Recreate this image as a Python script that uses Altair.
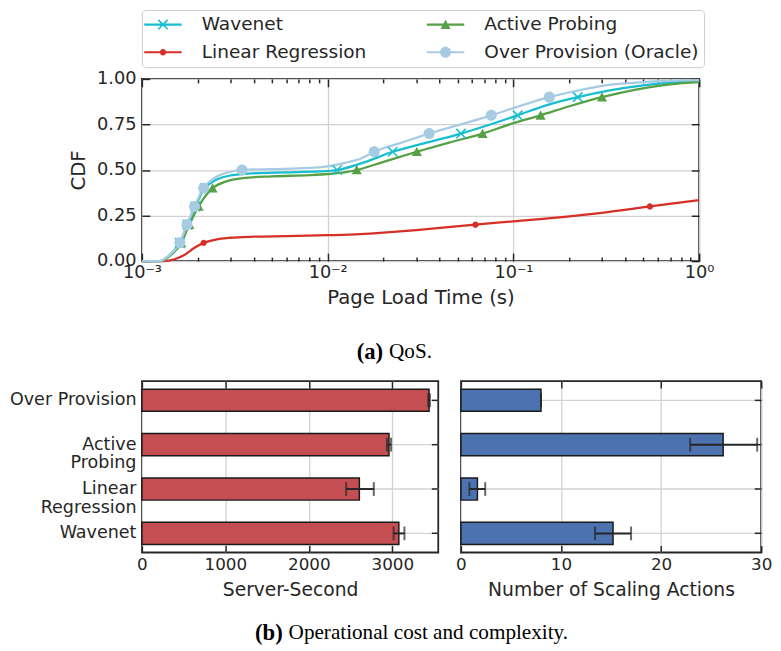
import math
import altair as alt
import pandas as pd

# ---------------- data ----------------
series_names = ["Wavenet", "Linear Regression", "Active Probing", "Over Provision (Oracle)"]
series_colors = ["#17becf", "#d62f27", "#56a046", "#a6cbe3"]

wavenet_x = [0.001, 0.00125, 0.0014, 0.0016, 0.00176, 0.00194, 0.00218, 0.0025, 0.003, 0.004, 0.006,
             0.009, 0.01125, 0.015, 0.0224, 0.035, 0.0522, 0.075, 0.1054, 0.15, 0.222, 0.33, 0.5, 0.7, 1.0]
wavenet_cdf = [0, 0, 0.03, 0.10, 0.20, 0.30, 0.40, 0.445, 0.47, 0.482, 0.487,
               0.492, 0.50, 0.535, 0.60, 0.653, 0.70, 0.75, 0.80, 0.855, 0.90, 0.937, 0.965, 0.98, 0.99]

lr_x = [0.001, 0.0013, 0.0015, 0.0017, 0.0019, 0.00215, 0.0025, 0.003, 0.004, 0.006, 0.01, 0.015,
        0.02, 0.03, 0.0625, 0.1, 0.2, 0.3, 0.543, 1.0]
lr_cdf = [0, 0, 0.01, 0.035, 0.07, 0.10, 0.118, 0.128, 0.134, 0.137, 0.142, 0.148,
          0.156, 0.17, 0.20, 0.218, 0.245, 0.265, 0.30, 0.335]

ap_x = [0.001, 0.00127, 0.0014, 0.00163, 0.0018, 0.00202, 0.0024, 0.0028, 0.0035, 0.005, 0.008, 0.01,
        0.0125, 0.01435, 0.02, 0.0302, 0.045, 0.0682, 0.1, 0.14, 0.2, 0.3, 0.45, 0.7, 1.0]
ap_cdf = [0, 0, 0.025, 0.10, 0.20, 0.30, 0.40, 0.435, 0.455, 0.465, 0.472, 0.478,
          0.488, 0.50, 0.545, 0.60, 0.65, 0.70, 0.757, 0.80, 0.85, 0.90, 0.94, 0.97, 0.982]

oracle_x = [0.001, 0.00124, 0.0014, 0.0016, 0.00175, 0.00192, 0.00215, 0.0025, 0.003, 0.00346, 0.005,
            0.008, 0.01, 0.0125, 0.015, 0.0178, 0.025, 0.0352, 0.05, 0.076, 0.1, 0.156, 0.22, 0.3, 0.5, 0.7, 1.0]
oracle_cdf = [0, 0, 0.03, 0.10, 0.20, 0.30, 0.40, 0.46, 0.49, 0.50, 0.505,
              0.512, 0.52, 0.54, 0.562, 0.60, 0.65, 0.70, 0.745, 0.80, 0.84, 0.90, 0.935, 0.962, 0.982, 0.99, 0.993]

wavenet_mark_x = [0.0016, 0.00176, 0.00194, 0.00218, 0.01125, 0.0224, 0.0522, 0.1054, 0.222]
wavenet_mark_cdf = [0.1, 0.2, 0.3, 0.4, 0.5, 0.6, 0.7, 0.8, 0.9]
lr_mark_x = [0.00215, 0.0625, 0.543]
lr_mark_cdf = [0.1, 0.2, 0.3]
ap_mark_x = [0.00163, 0.0018, 0.00202, 0.0024, 0.01435, 0.0302, 0.0682, 0.14, 0.30]
ap_mark_cdf = [0.1, 0.2, 0.3, 0.4, 0.5, 0.6, 0.7, 0.8, 0.9]
oracle_mark_x = [0.0016, 0.00175, 0.00192, 0.00215, 0.00346, 0.0178, 0.0352, 0.076, 0.156]
oracle_mark_cdf = [0.1, 0.2, 0.3, 0.4, 0.5, 0.6, 0.7, 0.8, 0.9]

x_major_ticks = [0.001, 0.01, 0.1, 1.0]
cdf_ticks = [0.0, 0.25, 0.5, 0.75, 1.0]

bar_categories = ["Over Provision", "Active\nProbing", "Linear\nRegression", "Wavenet"]
server_seconds = [3440, 2960, 2605, 3078]
server_seconds_lo = [3430, 2935, 2447, 3015]
server_seconds_hi = [3450, 2985, 2778, 3145]
scaling_actions = [8.0, 26.2, 1.65, 15.2]
scaling_actions_lo = [8.0, 22.9, 0.85, 13.4]
scaling_actions_hi = [8.0, 29.6, 2.43, 17.0]
server_ticks = [0, 1000, 2000, 3000]
scaling_ticks = [0, 10, 20, 30]

caption_a = ("(a)", "QoS.")
caption_b = ("(b)", "Operational cost and complexity.")

# ---------------- tables ----------------
curves = {"Wavenet": (wavenet_x, wavenet_cdf), "Linear Regression": (lr_x, lr_cdf),
          "Active Probing": (ap_x, ap_cdf), "Over Provision (Oracle)": (oracle_x, oracle_cdf)}
marks = {"Wavenet": (wavenet_mark_x, wavenet_mark_cdf), "Linear Regression": (lr_mark_x, lr_mark_cdf),
         "Active Probing": (ap_mark_x, ap_mark_cdf), "Over Provision (Oracle)": (oracle_mark_x, oracle_mark_cdf)}
curve_df = pd.DataFrame([{"series": s, "x": x, "cdf": y} for s in series_names
                         for x, y in zip(*curves[s])])
mark_df = pd.DataFrame([{"series": s, "x": x, "cdf": y} for s in series_names
                        for x, y in zip(*marks[s])])

# ---------------- styles ----------------
INK = "#262626"
GRID = "#d2d2d2"
SANS = "DejaVu Sans"


def polygon(pts):
    area = sum(x1 * y2 - x2 * y1 for (x1, y1), (x2, y2) in zip(pts, pts[1:] + pts[:1]))
    if area < 0:
        pts = pts[::-1]
    return "M" + "L".join(f"{x:.3f},{y:.3f}" for x, y in pts) + "Z"


def circle(r):
    return f"M{-r:.3f},0A{r:.3f},{r:.3f} 0 1 1 {r:.3f},0A{r:.3f},{r:.3f} 0 1 1 {-r:.3f},0Z"


def x_mark(h, t):
    s = t / (2 * math.sqrt(2))
    a = polygon([(-h - s, -h + s), (h - s, h + s), (h + s, h - s), (-h + s, -h - s)])
    b = polygon([(-h + s, h + s), (h + s, -h + s), (h - s, -h - s), (-h - s, h - s)])
    return a + b


triangle = polygon([(0, -0.62), (0.64, 0.55), (-0.64, 0.55)])
marker_paths = [x_mark(0.6, 0.2), circle(0.4), triangle, circle(0.7)]
line_seg = polygon([(-2.375, -0.14), (2.375, -0.14), (2.375, 0.14), (-2.375, 0.14)])
legend_paths = [line_seg + m for m in marker_paths]


def inward_axis(orient, length, values=None, **kw):
    opts = dict(orient=orient, tickSize=length, offset=-length, domain=False, ticks=True,
                tickColor=INK, tickWidth=1.5, labelFlush=False, labelOverlap=False)
    if values is not None:
        opts["values"] = values
    opts.update(kw)
    return alt.Axis(**opts)


# ---------------- top chart ----------------
TOP_W, TOP_H = 566, 185
x_scale = alt.Scale(type="log", domain=[0.001, 1.0], nice=False)
y_scale = alt.Scale(domain=[0, 1], nice=False)
color_scale = alt.Scale(domain=series_names, range=series_colors)
minor_x = [m * 10.0 ** e for e in (-3, -2, -1) for m in range(2, 10)]
sup_expr = ("datum.value < 0.005 ? '10\u207b\u00b3' : datum.value < 0.05 ? '10\u207b\u00b2' : "
            "datum.value < 0.5 ? '10\u207b\u00b9' : '10\u2070'")

lines = alt.Chart(curve_df).mark_line(strokeWidth=2.3, interpolate="monotone").encode(
    x=alt.X("x:Q", scale=x_scale, axis=inward_axis(
        "bottom", 8, x_major_ticks, grid=True, gridColor=GRID, gridWidth=1.3, labelExpr=sup_expr,
        labelFontSize=18, labelPadding=3, title="Page Load Time (s)", titleFontSize=20, titlePadding=6)),
    y=alt.Y("cdf:Q", scale=y_scale, axis=inward_axis(
        "left", 8, cdf_ticks, grid=True, gridColor=GRID, gridWidth=1.3, format=".2f",
        labelFontSize=18, labelPadding=6, title="CDF", titleFontSize=20, titlePadding=8)),
    color=alt.Color("series:N", scale=color_scale, legend=None),
)

minor_bottom = alt.Chart(curve_df).mark_point(opacity=0, size=1).encode(
    x=alt.X("x:Q", scale=x_scale, axis=inward_axis("bottom", 4, minor_x, labels=False, grid=False, title=None)),
    y=alt.Y("cdf:Q", scale=y_scale, axis=None),
)
minor_top = alt.Chart(curve_df).mark_point(opacity=0, size=1).encode(
    x=alt.X("x:Q", scale=x_scale, axis=inward_axis("top", 4, minor_x, labels=False, grid=False, title=None)),
    y=alt.Y("cdf:Q", scale=y_scale, axis=None),
)

points = alt.Chart(mark_df).mark_point(filled=True, opacity=1, size=256).encode(
    x=alt.X("x:Q", scale=x_scale, axis=inward_axis("top", 8, x_major_ticks, labels=False, grid=False, title=None)),
    y=alt.Y("cdf:Q", scale=y_scale, axis=inward_axis("right", 8, cdf_ticks, labels=False, grid=False, title=None)),
    color=alt.Color("series:N", scale=color_scale, legend=None),
    shape=alt.Shape("series:N", scale=alt.Scale(domain=series_names, range=marker_paths), legend=None),
)

legend_spec = dict(title=None, orient="none", legendX=0, legendY=-70, columns=2,
                   symbolSize=256, symbolStrokeWidth=0, symbolOffset=7, labelOffset=30,
                   labelFont=SANS, labelFontSize=18.8, labelColor=INK, labelLimit=400,
                   columnPadding=61, rowPadding=8.5, padding=5,
                   fillColor="white", strokeColor="#cccccc", cornerRadius=4)
legend_layer = alt.Chart(mark_df).transform_filter("false").mark_point(filled=True, opacity=1, size=256).encode(
    color=alt.Color("series:N", scale=color_scale, legend=alt.Legend(**legend_spec)),
    shape=alt.Shape("series:N", scale=alt.Scale(domain=series_names, range=legend_paths),
                    legend=alt.Legend(**legend_spec)),
)

top = alt.layer(lines, minor_bottom, minor_top, points, legend_layer).resolve_scale(
    color="independent", shape="independent").resolve_axis(
    x="independent", y="independent").properties(width=TOP_W, height=TOP_H)


# ---------------- captions ----------------
def caption(parts, x_split, y, w, h):
    df = pd.DataFrame({"tag": [parts[0]], "text": [parts[1]]})
    base = alt.Chart(df)
    t1 = base.mark_text(font="Liberation Serif", fontSize=23, fontWeight="bold", align="right",
                        baseline="middle", color="black").encode(
        text="tag:N", x=alt.value(x_split - 3), y=alt.value(y))
    t2 = base.mark_text(font="Liberation Serif", fontSize=21.5, align="left",
                        baseline="middle", color="black").encode(
        text="text:N", x=alt.value(x_split + 3), y=alt.value(y))
    return alt.layer(t1, t2).properties(width=w, height=h, view=alt.ViewBackground(strokeOpacity=0))


cap_a = caption(caption_a, 248, 34, TOP_W, 52)
cap_b = caption(caption_b, 146, 23, TOP_W, 31)


# ---------------- bar panels ----------------
def bar_panel(values, lo, hi, color, domain, ticks, title, width, show_labels):
    df = pd.DataFrame({"cat": bar_categories, "v": values, "lo": lo, "hi": hi})
    caps_df = pd.DataFrame({"cat": bar_categories + bar_categories, "e": lo + hi})
    yscale = alt.Scale(domain=bar_categories, paddingInner=0.5, paddingOuter=0.18)
    xscale = alt.Scale(domain=domain, nice=False)
    left_axis = inward_axis("left", 7, grid=True, gridColor=GRID, gridWidth=1.3, bandPosition=0.5,
                            labels=show_labels, labelExpr="split(datum.label, '\\n')",
                            labelFontSize=17.8, labelLineHeight=19, labelPadding=6, title=None)
    bars = alt.Chart(df).mark_bar(color=color, stroke="#1a1a1a", strokeWidth=1.5).encode(
        x=alt.X("v:Q", scale=xscale, axis=inward_axis(
            "bottom", 7, ticks, grid=True, gridColor=GRID, gridWidth=1.3, format="d",
            labelFontSize=17, labelPadding=4, title=title, titleFontSize=19, titlePadding=9)),
        y=alt.Y("cat:N", scale=yscale, sort=None, axis=left_axis),
    )
    err = alt.Chart(df).mark_rule(color=INK, strokeWidth=2).encode(
        x=alt.X("lo:Q", scale=xscale, axis=inward_axis("top", 7, ticks, labels=False, grid=False, title=None)),
        x2="hi:Q",
        y=alt.Y("cat:N", scale=yscale, sort=None, axis=inward_axis(
            "right", 7, labels=False, grid=False, title=None, bandPosition=0.5)),
    )
    caps = alt.Chart(caps_df).mark_tick(color=INK, thickness=2, size=14).encode(
        x=alt.X("e:Q", scale=xscale, axis=None),
        y=alt.Y("cat:N", scale=yscale, sort=None, axis=None),
    )
    return alt.layer(bars, err, caps).resolve_axis(x="independent", y="independent").properties(
        width=width, height=174)


left_panel = bar_panel(server_seconds, server_seconds_lo, server_seconds_hi, "#c44e52",
                       [0, 3550], server_ticks, "Server-Second", 301, True)
right_panel = bar_panel(scaling_actions, scaling_actions_lo, scaling_actions_hi, "#4c72b0",
                        [0, 30], scaling_ticks, "Number of Scaling Actions", 305, False)
bottom = alt.hconcat(left_panel, right_panel, spacing=14)

chart = alt.vconcat(top, cap_a, bottom, cap_b, spacing=10).properties(
    padding={"left": 0, "top": -5, "right": 0, "bottom": 0}
).configure_view(stroke=INK, strokeWidth=1.8).configure_axis(
    labelFont=SANS, titleFont=SANS, labelColor=INK, titleColor=INK, titleFontWeight="normal"
)

chart.save("out.html", embed_options={"renderer": "svg", "actions": False})
